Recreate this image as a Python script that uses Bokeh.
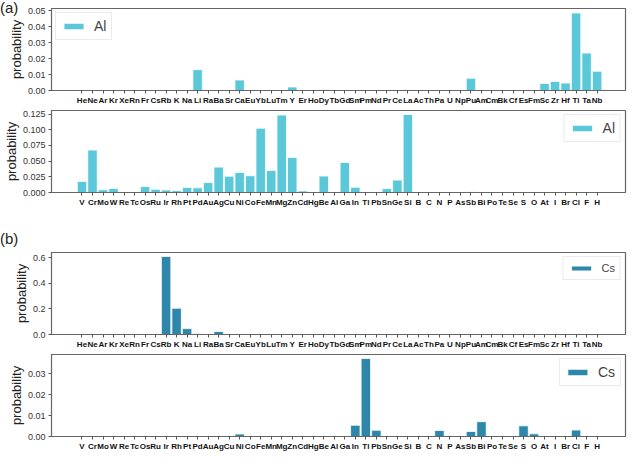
from bokeh.plotting import figure
from bokeh.layouts import column
from bokeh.models import Range1d, FixedTicker, Div
from bokeh.embed import file_html
from bokeh.resources import INLINE

elements_a = ["He", "Ne", "Ar", "Kr", "Xe", "Rn", "Fr", "Cs", "Rb", "K", "Na", "Li", "Ra", "Ba", "Sr",
              "Ca", "Eu", "Yb", "Lu", "Tm", "Y", "Er", "Ho", "Dy", "Tb", "Gd", "Sm", "Pm", "Nd", "Pr",
              "Ce", "La", "Ac", "Th", "Pa", "U", "Np", "Pu", "Am", "Cm", "Bk", "Cf", "Es", "Fm", "Sc",
              "Zr", "Hf", "Ti", "Ta", "Nb"]
elements_b = ["V", "Cr", "Mo", "W", "Re", "Tc", "Os", "Ru", "Ir", "Rh", "Pt", "Pd", "Au", "Ag", "Cu",
              "Ni", "Co", "Fe", "Mn", "Mg", "Zn", "Cd", "Hg", "Be", "Al", "Ga", "In", "Tl", "Pb", "Sn",
              "Ge", "Si", "B", "C", "N", "P", "As", "Sb", "Bi", "Po", "Te", "Se", "S", "O", "At",
              "I", "Br", "Cl", "F", "H"]

# Al: probabilities over elements_a
al_a = [0, 0, 0, 0, 0, 0, 0, 0, 0, 0, 0, 0.0131, 0, 0, 0,
        0.0066, 0, 0, 0, 0, 0.0022, 0, 0.0003, 0.0005, 0.0003, 0, 0, 0, 0, 0,
        0, 0.0005, 0, 0, 0, 0, 0, 0.0077, 0, 0, 0, 0, 0, 0, 0.0044,
        0.0057, 0.0047, 0.0487, 0.0235, 0.0121]
# Al: probabilities over elements_b
al_b = [0.0177, 0.0677, 0.0044, 0.0064, 0, 0, 0.0094, 0.0052, 0.0040, 0.0030, 0.0080, 0.0074, 0.0158, 0.0405, 0.0260,
        0.0320, 0.0267, 0.1025, 0.0350, 0.1235, 0.0558, 0.0025, 0.0003, 0.0262, 0, 0.0480, 0.0084, 0, 0, 0.0062,
        0.0198, 0.1245, 0.0006, 0, 0, 0.0003, 0.0003, 0.0012, 0.0005, 0, 0, 0, 0, 0, 0,
        0, 0, 0, 0, 0]
# Cs: probabilities over elements_a
cs_a = [0, 0, 0, 0, 0, 0, 0, 0, 0.611, 0.206, 0.046, 0.006, 0, 0.023, 0,
        0, 0, 0, 0, 0, 0, 0, 0, 0, 0, 0, 0, 0, 0, 0,
        0, 0, 0, 0, 0, 0, 0, 0, 0, 0, 0, 0, 0, 0, 0,
        0, 0, 0, 0, 0]
# Cs: probabilities over elements_b
cs_b = [0, 0, 0, 0, 0, 0, 0, 0, 0, 0, 0, 0, 0, 0, 0,
        0.0012, 0, 0, 0, 0, 0, 0, 0, 0, 0, 0, 0.0054, 0.0374, 0.0030, 0,
        0, 0, 0, 0, 0.0029, 0, 0, 0.0024, 0.0071, 0, 0, 0, 0.0051, 0.0013, 0,
        0, 0, 0.0031, 0, 0]

series_names = ["Al", "Al", "Cs", "Cs"]
panel_tags = ["(a)", "(b)"]

yticks_1 = [0, 0.01, 0.02, 0.03, 0.04, 0.05]
ylabels_1 = ["0.00", "0.01", "0.02", "0.03", "0.04", "0.05"]
yticks_2 = [0, 0.025, 0.05, 0.075, 0.1, 0.125]
ylabels_2 = ["0.000", "0.025", "0.050", "0.075", "0.100", "0.125"]
yticks_3 = [0, 0.2, 0.4, 0.6]
ylabels_3 = ["0.0", "0.2", "0.4", "0.6"]
yticks_4 = [0, 0.01, 0.02, 0.03]
ylabels_4 = ["0.00", "0.01", "0.02", "0.03"]

AL_COLOR = "#5ac8d8"
CS_COLOR = "#2e86ab"
FONT = "Liberation Sans"
W = 628
LEFT = 46


def panel(cats, vals, color, name, yticks, ylabels, ymax, height, top, legend_loc, legend_font,
          glyph_h, margin=0):
    p = figure(width=W, height=height, x_range=Range1d(-2.9, 51.7), y_range=Range1d(0, ymax),
               output_backend="svg", toolbar_location=None, margin=margin,
               min_border_left=LEFT, min_border_right=3, min_border_top=top, min_border_bottom=0)
    p.border_fill_alpha = 0
    idx = [i for i, v in enumerate(vals) if v > 0]
    p.vbar(x=idx, top=[vals[i] for i in idx], width=0.9, fill_color=color, line_color="white",
           line_width=0.8, legend_label=name)
    p.xgrid.visible = False
    p.ygrid.visible = False
    p.outline_line_color = "#666666"
    p.outline_line_width = 1.2

    xa = p.xaxis[0]
    xa.ticker = FixedTicker(ticks=list(range(len(cats))))
    xa.major_label_overrides = {i: c for i, c in enumerate(cats)}
    xa.major_label_text_font = FONT
    xa.major_label_text_font_style = "bold"
    xa.major_label_text_font_size = "8px"
    xa.major_label_text_color = "#111111"
    xa.major_label_standoff = 2
    xa.major_tick_out = 3
    xa.major_tick_in = 0
    xa.minor_tick_out = 0
    xa.minor_tick_in = 0
    xa.axis_label_standoff = 0
    xa.axis_line_color = "#666666"
    xa.major_tick_line_color = "#555555"

    ya = p.yaxis[0]
    ya.ticker = FixedTicker(ticks=yticks)
    ya.major_label_overrides = {t: l for t, l in zip(yticks, ylabels)}
    ya.major_label_text_font = FONT
    ya.major_label_text_font_size = "9px"
    ya.major_label_text_color = "#333333"
    ya.major_label_standoff = 3
    ya.major_tick_out = 3
    ya.major_tick_in = 0
    ya.minor_tick_out = 0
    ya.minor_tick_in = 0
    ya.axis_line_color = "#666666"
    ya.major_tick_line_color = "#555555"
    ya.axis_label = "probability"
    ya.axis_label_text_font = FONT
    ya.axis_label_text_font_style = "normal"
    ya.axis_label_text_font_size = "13px"
    ya.axis_label_text_color = "#222222"
    ya.axis_label_standoff = 1

    lg = p.legend[0]
    lg.location = legend_loc
    lg.margin = 4
    lg.padding = 5
    lg.glyph_width = 25
    lg.glyph_height = glyph_h
    lg.label_width = 5
    lg.label_text_font = FONT
    lg.label_text_font_size = legend_font
    lg.label_standoff = 8
    lg.border_line_color = "#d8d8d8"
    lg.background_fill_alpha = 0.85
    lg.label_height = 12
    return p


p1 = panel(elements_a, al_a, AL_COLOR, series_names[0], yticks_1, ylabels_1, 0.0515, 102, 3,
           "top_left", "14px", 8, margin=(-10, 0, 0, 0))
p2 = panel(elements_b, al_b, AL_COLOR, series_names[1], yticks_2, ylabels_2, 0.1308, 102, 3,
           "top_right", "14px", 8)
p3 = panel(elements_a, cs_a, CS_COLOR, series_names[2], yticks_3, ylabels_3, 0.642, 104, 5,
           "top_right", "11px", 6)
p4 = panel(elements_b, cs_b, CS_COLOR, series_names[3], yticks_4, ylabels_4, 0.0393, 102, 3,
           "top_right", "14px", 8)

tag_style = {"font-family": "Liberation Sans", "font-size": "15px", "color": "#222222",
             "line-height": "15px"}
div_a = Div(text=panel_tags[0], width=40, height=15, margin=0, styles=tag_style)
div_b = Div(text=panel_tags[1], width=40, height=38, margin=0,
            styles=dict(tag_style, **{"padding-top": "22px", "box-sizing": "border-box"}))

layout = column(div_a, p1, p2, div_b, p3, p4, spacing=0, margin=0)
open("out.html", "w").write(file_html(layout, INLINE))
